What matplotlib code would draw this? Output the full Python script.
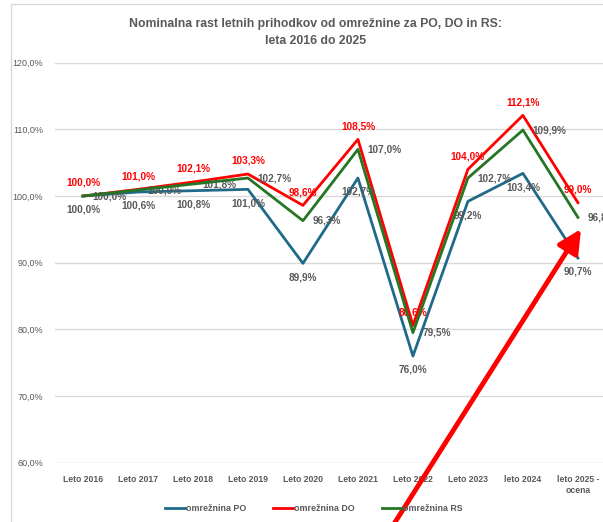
import matplotlib
matplotlib.use("Agg")
import matplotlib.pyplot as plt
from matplotlib.patches import Rectangle

plt.rcParams['font.family'] = ['Liberation Sans', 'DejaVu Sans']

years = ['Leto 2016', 'Leto 2017', 'Leto 2018', 'Leto 2019', 'Leto 2020',
         'Leto 2021', 'Leto 2022', 'Leto 2023', 'leto 2024', 'leto 2025 -\nocena']
po = [100.0, 100.6, 100.8, 101.0, 89.9, 102.7, 76.0, 99.2, 103.4, 90.7]
do = [100.0, 101.0, 102.1, 103.3, 98.6, 108.5, 80.6, 104.0, 112.1, 99.0]
rs = [100.0, 100.9, 101.8, 102.7, 96.3, 107.0, 79.5, 102.7, 109.9, 96.8]
yticks = [60, 70, 80, 90, 100, 110, 120]

c_po = '#1F6A8A'
c_do = '#FF0000'
c_rs = '#247524'
grey = '#595959'


def pct(v):
    return '{:.1f}%'.format(v).replace('.', ',')


fig = plt.figure(figsize=(6.03, 5.22), dpi=100)
ax = fig.add_axes([0.092, 0.1136, 0.912, 0.7663])

# chart border
fig.patches.append(Rectangle((11 / 603, -0.1), 1.2, (518 / 522) + 0.1,
                             transform=fig.transFigure, fill=False,
                             edgecolor='#D9D9D9', linewidth=1))

x = list(range(len(years)))
ax.plot(x, po, color=c_po, linewidth=2.0, label='omrežnina PO', zorder=3)
ax.plot(x, do, color=c_do, linewidth=2.0, label='omrežnina DO', zorder=3)
ax.plot(x, rs, color=c_rs, linewidth=2.0, label='omrežnina RS', zorder=4)

for i in x:
    ax.annotate(pct(po[i]), (i, po[i]), xytext=(0, -10), textcoords='offset points',
                ha='center', va='center', fontsize=7.2, color=grey, fontweight='bold')
    ax.annotate(pct(do[i]), (i, do[i]), xytext=(0, 9.5), textcoords='offset points',
                ha='center', va='center', fontsize=7.2, color=c_do, fontweight='bold')
    ax.annotate(pct(rs[i]), (i, rs[i]), xytext=(7, 0), textcoords='offset points',
                ha='left', va='center', fontsize=7.2, color=grey, fontweight='bold')

ax.set_xlim(-0.5, len(years) - 0.5)
ax.set_ylim(60, 120)
ax.set_yticks(yticks)
ax.set_yticklabels([pct(v) for v in yticks])
ax.set_xticks(x)
ax.set_xticklabels(years, fontweight='bold', linespacing=1.3)
ax.tick_params(axis='both', length=0, colors=grey)
ax.tick_params(axis='y', labelsize=6.5, pad=9)
ax.tick_params(axis='x', labelsize=6.2, pad=9)
ax.grid(axis='y', color='#D9D9D9', linewidth=1)
ax.set_axisbelow(True)
for s in ax.spines.values():
    s.set_visible(False)

fig.text(0.524, 0.966, 'Nominalna rast letnih prihodkov od omrežnine za PO, DO in RS:\nleta 2016 do 2025',
         ha='center', va='top', fontsize=8.8, fontweight='bold', color=grey,
         linespacing=1.55)

leg = fig.legend(loc='center', bbox_to_anchor=(0.52, 0.025), ncol=3, frameon=False,
                 fontsize=6.4, handlelength=2.3, handletextpad=0.1, columnspacing=3.0)
for t in leg.get_texts():
    t.set_color(grey)
    t.set_fontweight('bold')

# red arrow drawn on top
ax.annotate('', xy=(581, 293), xycoords='figure pixels',
            xytext=(392, -5), textcoords='figure pixels',
            arrowprops=dict(arrowstyle='-|>,head_length=1.4,head_width=0.7',
                            color='#FF0000', linewidth=3.5, shrinkA=0, shrinkB=0),
            annotation_clip=False, zorder=10)

fig.savefig('out.png', dpi=100)
